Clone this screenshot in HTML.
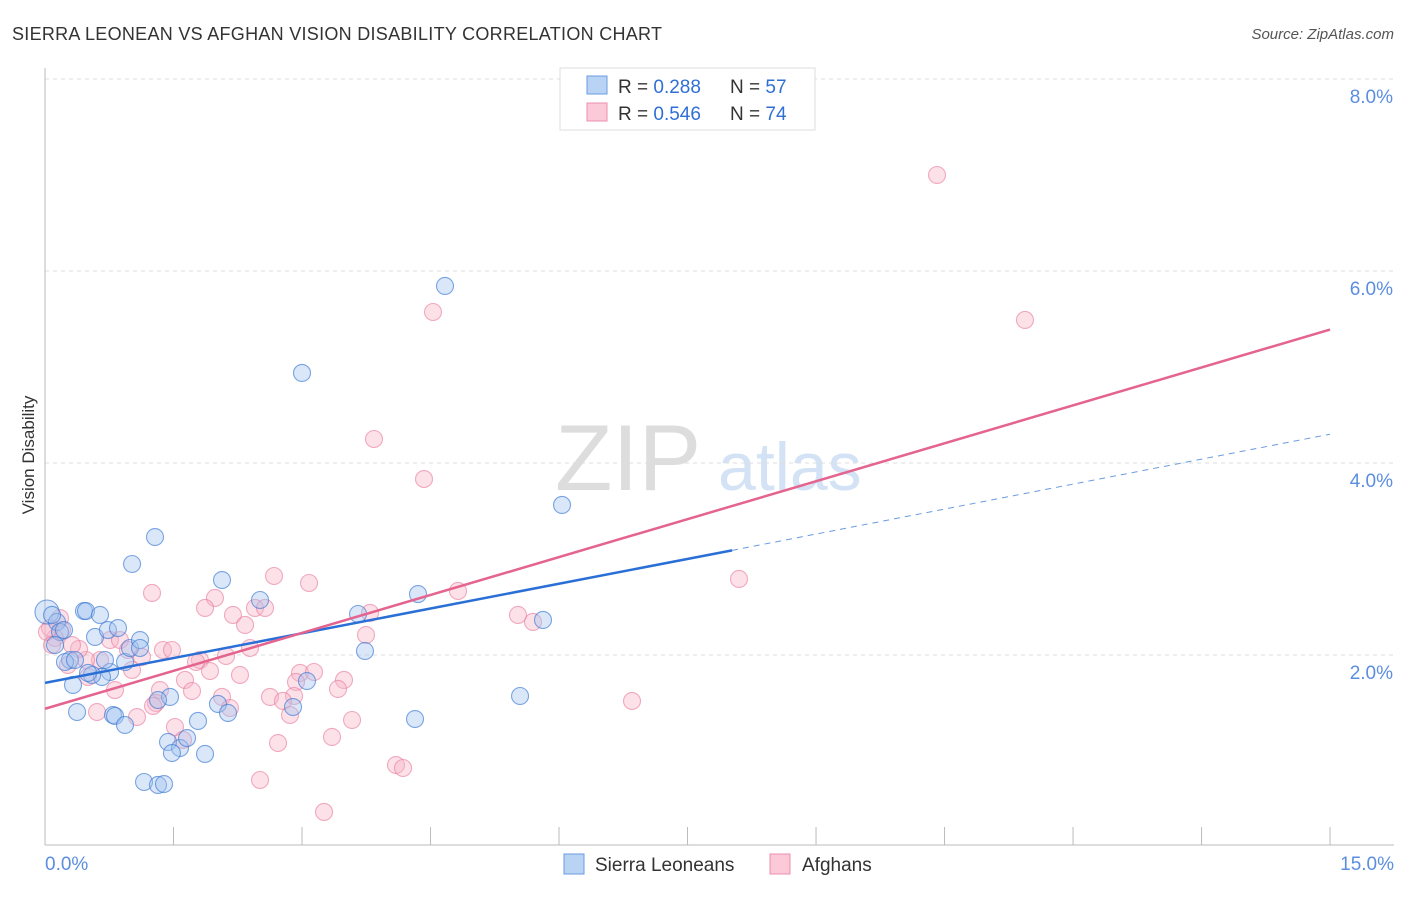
<!DOCTYPE html>
<html><head><meta charset="utf-8"><style>
body{margin:0;background:#fff;font-family:"Liberation Sans",sans-serif}
svg text{font-family:"Liberation Sans",sans-serif}
</style></head><body>
<svg id="c" width="1406" height="892">
<text x="12" y="40" font-size="18" fill="#333" textLength="650">SIERRA LEONEAN VS AFGHAN VISION DISABILITY CORRELATION CHART</text>
<text x="1394" y="39" font-size="15" fill="#555" font-style="italic" text-anchor="end">Source: ZipAtlas.com</text>
<text x="34" y="455" font-size="17" fill="#333" text-anchor="middle" transform="rotate(-90 34 455)">Vision Disability</text>
<text x="555" y="490" font-size="94" fill="#ddd" font-family="Liberation Serif">ZIP</text>
<text x="718" y="490" font-size="68" fill="#d3e2f4">atlas</text>
<g id="grid"></g><g id="pts"></g><g id="lines"></g>
<g>
<rect x="560" y="68" width="255" height="62" fill="#fff" stroke="#ddd"/>
<rect x="587" y="76" width="20" height="18" fill="#b9d3f5" stroke="#6a9be0"/>
<rect x="587" y="103" width="20" height="18" fill="#fbc9d8" stroke="#ee8fac"/>
<text x="618" y="93" font-size="19" fill="#333">R = <tspan fill="#2f6fd6">0.288</tspan></text>
<text x="730" y="93" font-size="19" fill="#333">N = <tspan fill="#2f6fd6">57</tspan></text>
<text x="618" y="120" font-size="19" fill="#333">R = <tspan fill="#2f6fd6">0.546</tspan></text>
<text x="730" y="120" font-size="19" fill="#333">N = <tspan fill="#2f6fd6">74</tspan></text>
</g>
<g>
<rect x="564" y="854" width="20" height="20" fill="#b9d3f5" stroke="#6a9be0"/>
<text x="595" y="871" font-size="19" fill="#333">Sierra Leoneans</text>
<rect x="770" y="854" width="20" height="20" fill="#fbc9d8" stroke="#ee8fac"/>
<text x="802" y="871" font-size="19" fill="#333">Afghans</text>
</g>
</svg>
<script>
const xTicks=[0,15];
const yTicks=[2,4,6,8];
const bluePx=[[47,612],[57,622],[60,632],[55,645],[70,660],[65,662],[73,685],[77,712],[84,611],[86,611],[100,615],[95,637],[108,630],[118,628],[110,672],[102,677],[92,675],[105,660],[125,662],[130,648],[140,640],[132,564],[155,537],[113,715],[115,716],[125,725],[170,697],[158,700],[222,580],[260,600],[218,704],[228,713],[198,721],[168,742],[180,748],[187,738],[172,753],[205,754],[144,782],[158,785],[164,784],[302,373],[445,286],[562,505],[418,594],[358,614],[365,651],[543,620],[520,696],[415,719],[307,681],[293,707],[140,648],[75,660],[88,673],[64,630],[52,615]];
const pinkPx=[[937,175],[1025,320],[433,312],[374,439],[424,479],[739,579],[632,701],[458,591],[518,615],[533,622],[370,613],[366,635],[309,583],[274,576],[215,598],[205,608],[152,593],[255,608],[265,608],[233,615],[245,625],[250,648],[226,656],[200,660],[196,662],[210,671],[240,675],[185,680],[160,690],[192,691],[163,650],[172,650],[300,673],[314,672],[296,682],[344,680],[338,689],[270,697],[294,696],[283,701],[290,715],[222,697],[230,708],[156,703],[153,706],[137,717],[97,712],[175,727],[183,740],[352,720],[332,737],[278,743],[260,780],[396,765],[403,768],[324,812],[110,640],[120,640],[128,650],[142,657],[132,670],[100,660],[86,660],[88,677],[79,649],[62,630],[55,638],[50,628],[60,618],[72,645],[115,690],[47,632],[52,645],[68,665]];
const blue=bluePx.map(p=>[+((p[0]-45)/85.67).toFixed(3),+((847-p[1])/96).toFixed(3)]);
const pink=pinkPx.map(p=>[+((p[0]-45)/85.67).toFixed(3),+((847-p[1])/96).toFixed(3)]);
const blueTrend=[[0,1.71],[8.02,3.09]];
const blueDash=[[8.02,3.09],[15,4.3]];
const pinkTrend=[[0,1.44],[15,5.39]];
const X=v=>45+v*85.67, Y=v=>847-v*96;
const NS='http://www.w3.org/2000/svg';
function mk(t,a,p){const e=document.createElementNS(NS,t);for(const k in a)e.setAttribute(k,a[k]);p.appendChild(e);return e;}
const g=document.getElementById('grid');
yTicks.forEach(v=>{const l=mk('line',{x1:45,x2:1394,y1:Y(v),y2:Y(v),stroke:'#ddd','stroke-dasharray':'4,4'},g);


const t=mk('text',{x:1393,y:Y(v)+24,'font-size':19,fill:'#5b8ee0','text-anchor':'end'},g);t.textContent=v.toFixed(1)+'%';

});
mk('line',{x1:45,x2:45,y1:68,y2:845,stroke:'#bbb'},g);
mk('line',{x1:45,x2:1394,y1:845,y2:845,stroke:'#bbb'},g);
for(let i=0;i<=10;i++){mk('line',{x1:X(i*1.5),x2:X(i*1.5),y1:827,y2:845,stroke:'#bbb'},g);}
xTicks.forEach((v,i)=>{const t=mk('text',{x:i?1394:45,y:870,'font-size':19,fill:'#5b8ee0','text-anchor':i?'end':'start'},g);t.textContent=v.toFixed(1)+'%';

});
const pg=document.getElementById('pts');
pink.forEach(d=>{const c=mk('circle',{cx:X(d[0]),cy:Y(d[1]),r:8.5,fill:'rgba(248,180,200,0.4)',stroke:'rgba(232,120,155,0.6)','stroke-width':1.1},pg);

});
blue.forEach((d,i)=>{const c=mk('circle',{cx:X(d[0]),cy:Y(d[1]),r:i==0?12:8.5,fill:'rgba(160,195,240,0.4)',stroke:'rgba(60,120,210,0.65)','stroke-width':1.1},pg);

});
const lg=document.getElementById('lines');
let l=mk('line',{x1:X(blueTrend[0][0]),y1:Y(blueTrend[0][1]),x2:X(blueTrend[1][0]),y2:Y(blueTrend[1][1]),stroke:'#2a6fd6','stroke-width':2.5},lg);


l=mk('line',{x1:X(blueDash[0][0]),y1:Y(blueDash[0][1]),x2:X(blueDash[1][0]),y2:Y(blueDash[1][1]),stroke:'#6a9be0','stroke-width':1,'stroke-dasharray':'6,5'},lg);


l=mk('line',{x1:X(pinkTrend[0][0]),y1:Y(pinkTrend[0][1]),x2:X(pinkTrend[1][0]),y2:Y(pinkTrend[1][1]),stroke:'#e4648f','stroke-width':2.5},lg);


</script>
</body></html>
